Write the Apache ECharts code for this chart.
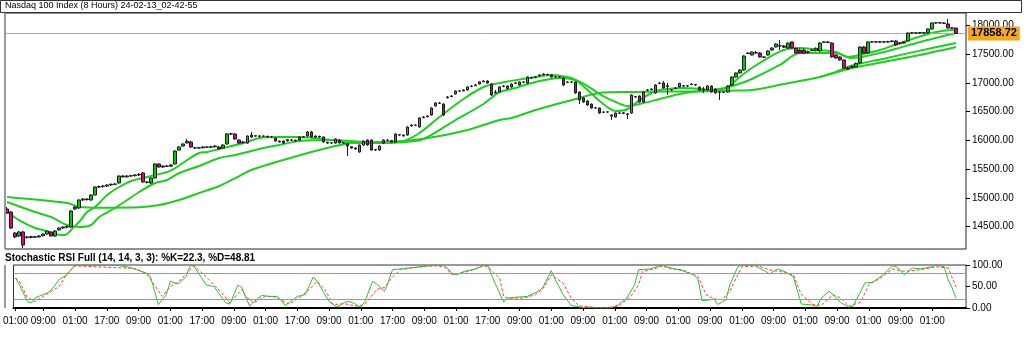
<!DOCTYPE html>
<html><head><meta charset="utf-8">
<script src="https://cdn.jsdelivr.net/npm/echarts@6/dist/echarts.min.js"></script>
<style>html,body{margin:0;padding:0;background:#fff}#c{width:1024px;height:344px}</style>
</head><body><div id="c"></div>
<script>
const chartTitle = 'Nasdaq 100 Index (8 Hours) 24-02-13_02-42-55';
const stochTitle = 'Stochastic RSI Full (14, 14, 3, 3): %K=22.3, %D=48.81';
const lastPrice = 17858.72;
const barCount = 240;
// [open, close, low, high]
const ohlc = [
[14806,14736,14719,14840],[14753,14475,14458,14771],[14388,14319,14301,14406],[14336,14406,14319,14423],
[14406,14180,14127,14423],[14319,14310,14290,14336],[14310,14325,14295,14340],[14325,14315,14300,14336],
[14320,14336,14310,14350],[14340,14371,14330,14380],[14371,14423,14360,14430],[14406,14336,14330,14415],
[14336,14423,14320,14440],[14440,14475,14430,14490],[14475,14493,14460,14500],[14490,14500,14470,14520],
[14493,14771,14480,14790],[14806,14840,14790,14860],[14823,14962,14810,14975],[14962,14979,14945,14995],
[14979,14970,14950,14995],[14962,15049,14950,15060],[15049,15188,15040,15200],[15188,15195,15170,15215],
[15195,15205,15180,15220],[15205,15223,15190,15235],[15223,15235,15210,15250],[15235,15240,15220,15255],
[15258,15379,15245,15390],[15379,15365,15350,15395],[15365,15379,15350,15395],[15379,15385,15365,15400],
[15385,15397,15370,15410],[15397,15405,15380,15430],[15432,15275,15260,15450],[15275,15270,15250,15290],
[15258,15345,15240,15355],[15345,15588,15335,15600],[15588,15536,15525,15600],[15536,15553,15520,15565],
[15553,15550,15535,15570],[15550,15571,15540,15585],[15588,15814,15575,15825],[15831,15884,15820,15900],
[15900,15936,15890,15950],[15953,15985,15950,16023],[15971,15884,15870,15990],[15870,15866,15850,15885],
[15866,15870,15850,15885],[15870,15884,15860,15900],[15884,15880,15865,15900],[15880,15888,15868,15905],
[15888,15901,15875,15915],[15884,15849,15840,15900],[15866,15918,15855,15930],[15936,16110,15925,16125],
[16110,16115,16095,16130],[16110,16023,16010,16125],[16005,15953,15945,16015],[15960,15971,15945,15985],
[15953,16075,15940,16085],[16058,16092,16040,16145],[16080,16075,16060,16090],[16075,16070,16055,16090],
[16070,16075,16058,16088],[16070,16058,16045,16080],[16058,16060,16045,16075],[16040,15988,15975,16050],
[15985,15971,15960,15995],[15988,15953,15940,15995],[15990,16010,15980,16025],[16005,16000,15990,16020],
[16000,15990,15975,16015],[16005,16058,15995,16070],[16058,16055,16040,16070],[16075,16145,16065,16160],
[16145,16058,16045,16165],[16058,16075,16045,16085],[16070,16058,16045,16080],[16058,15971,15960,16065],
[15965,15953,15940,15975],[15953,15955,15940,15970],[15953,16023,15940,16035],[16005,15953,15945,16015],
[15953,15950,15935,15965],[15940,15901,15727,15950],[15890,15866,15850,15895],[15866,15849,15835,15875],
[15797,15918,15785,15930],[15918,15988,15905,16000],[16005,15918,15905,16015],[16005,15831,15820,16015],
[15831,15840,15815,15850],[15831,15901,15820,15910],[15953,16005,15940,16015],[16005,16000,15990,16020],
[15995,15971,15960,16005],[15971,16110,15960,16125],[16100,16092,16080,16110],[16090,16075,16065,16105],
[16092,16232,16080,16245],[16250,16266,16240,16280],[16266,16260,16248,16280],[16232,16388,16220,16400],
[16395,16405,16385,16420],[16410,16423,16400,16435],[16440,16562,16430,16575],[16597,16649,16585,16660],
[16649,16645,16630,16665],[16631,16440,16425,16645],[16740,16753,16730,16770],[16760,16771,16750,16785],
[16805,16858,16795,16870],[16858,16855,16840,16870],[16860,16875,16850,16885],[16875,16927,16865,16940],
[16935,16944,16925,16955],[16950,16962,16940,16975],[16979,17014,16970,17025],[17020,17031,17010,17045],
[17031,16997,16985,17045],[16979,16788,16775,16990],[16840,16823,16810,16875],[16840,16927,16830,16940],
[16935,16944,16925,16955],[16944,16900,16890,16955],[16927,16979,16915,16990],[16990,16997,16980,17010],
[16962,17014,16950,17025],[17014,17010,17000,17025],[16997,17101,16985,17110],[17090,17084,17075,17100],
[17090,17101,17080,17115],[17120,17136,17110,17150],[17140,17153,17130,17165],[17145,17136,17125,17160],
[17136,17101,17090,17150],[17101,17105,17090,17115],[17105,17101,17090,17118],[17084,16962,16940,17095],
[17014,17010,16995,17025],[17014,17014,17000,17025],[17014,16823,16810,17025],[16840,16701,16631,16850],
[16736,16666,16650,16745],[16684,16614,16600,16695],[16631,16562,16550,16640],[16562,16565,16550,16580],
[16562,16475,16460,16570],[16492,16488,16475,16505],[16492,16495,16478,16505],[16440,16420,16353,16450],
[16405,16475,16395,16485],[16475,16470,16460,16488],[16470,16478,16455,16490],[16460,16450,16371,16470],
[16475,16788,16460,16800],[16760,16753,16740,16770],[16771,16666,16655,16780],[16666,16840,16655,16850],
[16870,16875,16860,16890],[16880,16892,16870,16905],[16823,16962,16810,16975],[16990,16997,16980,17010],
[16997,16910,16900,17031],[16950,16935,16788,16997],[16880,16875,16860,16890],[16900,16910,16890,16925],
[16927,16990,16920,17000],[16950,16944,16930,16960],[16944,16948,16930,16960],[16970,16979,16960,16990],
[16970,16962,16950,16980],[16927,16875,16865,16935],[16890,16875,16823,16927],[16875,16944,16865,16955],
[16944,16840,16830,16955],[16892,16823,16810,16900],[16840,16835,16701,16850],[16835,16840,16825,16850],
[16840,16944,16830,16955],[16962,17101,16950,17110],[17101,17171,17090,17180],[17171,17223,17160,17235],
[17223,17466,17210,17480],[17510,17518,17500,17530],[17484,17536,17475,17545],[17525,17518,17505,17553],
[17518,17449,17440,17530],[17449,17445,17430,17460],[17484,17553,17475,17565],[17570,17605,17560,17615],
[17623,17675,17615,17685],[17645,17640,17570,17744],[17640,17620,17605,17660],[17605,17692,17595,17700],
[17710,17605,17595,17720],[17600,17520,17505,17610],[17570,17520,17505,17595],[17570,17515,17505,17600],
[17530,17540,17510,17560],[17560,17570,17550,17585],[17560,17600,17545,17615],[17553,17692,17540,17705],
[17705,17710,17695,17725],[17710,17700,17690,17725],[17692,17449,17440,17705],[17484,17431,17420,17495],
[17449,17397,17385,17460],[17397,17257,17245,17405],[17260,17240,17223,17275],[17270,17285,17257,17300],
[17275,17340,17265,17350],[17344,17623,17330,17635],[17623,17518,17505,17635],[17518,17710,17505,17720],
[17710,17712,17700,17725],[17712,17708,17698,17725],[17708,17712,17695,17725],[17712,17710,17698,17728],
[17710,17715,17698,17730],[17720,17727,17705,17740],[17727,17658,17645,17740],[17680,17692,17665,17705],
[17692,17710,17680,17720],[17727,17866,17715,17875],[17866,17870,17855,17885],[17868,17866,17852,17882],
[17866,17872,17855,17885],[17870,17866,17855,17885],[17866,17936,17855,17945],[17936,18040,17925,18050],
[18040,18045,18030,18055],[18045,18040,18030,18055],[18040,18035,18025,18050],[18023,17953,17945,18110],
[17955,17950,17940,17965],[17953,17858.72,17850,17960]
];
// moving averages: [barIndex, value]
const maFast = [[0,14753],[3,14614],[7,14475],[9,14440],[12,14371],[14,14353],[15,14371],[16,14440],[18,14579],[20,14753],[22,14840],[25,15049],[28,15188],[31,15292],[34,15345],[37,15397],[40,15449],[42,15518],[45,15658],[48,15779],[50,15797],[55,15884],[60,15971],[63,16040],[68,16058],[73,16058],[81,16005],[86,15953],[93,15953],[99,15988],[103,16127],[108,16405],[114,16718],[119,16927],[123,16997],[132,17101],[136,17136],[140,17101],[142,17049],[145,16875],[148,16684],[152,16510],[155,16544],[158,16701],[162,16858],[165,16892],[169,16910],[173,16892],[177,16875],[180,16927],[183,17101],[186,17257],[190,17431],[194,17570],[198,17605],[203,17570],[207,17536],[210,17449],[213,17484],[218,17570],[223,17692],[231,17866],[236,17918],[237,17901]];
const maMid = [[0,14927],[7,14753],[11,14666],[15,14527],[18,14493],[21,14527],[23,14666],[27,14823],[30,14962],[33,15101],[37,15258],[40,15310],[43,15432],[48,15553],[53,15692],[57,15745],[63,15849],[68,15918],[73,15988],[81,16005],[86,15988],[93,15953],[99,15971],[104,16023],[112,16353],[119,16631],[123,16840],[126,16892],[132,17014],[138,17084],[142,17049],[145,16944],[148,16805],[152,16666],[155,16597],[158,16631],[163,16718],[168,16805],[173,16857],[178,16892],[182,16962],[186,17066],[193,17310],[198,17518],[207,17518],[211,17431],[219,17536],[228,17710],[237,17866]];
const maSlow = [[0,15014],[15,14910],[18,14846],[23,14828],[33,14835],[38,14875],[43,14962],[48,15084],[53,15206],[58,15379],[61,15484],[69,15658],[78,15832],[86,15953],[96,15976],[100,15993],[107,16063],[115,16179],[123,16353],[126,16388],[132,16527],[142,16718],[148,16823],[156,16840],[165,16849],[173,16849],[182,16866],[186,16875],[194,16979],[203,17101],[211,17257],[219,17362],[228,17484],[237,17623]];
const maSlow2 = [[203,17101],[207,17190],[211,17300],[219,17420],[228,17560],[237,17692]];
const stochK = [[0,70],[1,54],[3,15],[4,12],[5,24],[8,35],[9,42],[11,66],[13,77],[15,100],[26,99],[29,94],[33,81],[34,73],[36,8],[38,31],[39,62],[41,56],[43,73],[44,99],[45,97],[48,54],[50,50],[53,12],[54,9],[56,53],[57,48],[59,4],[60,14],[62,29],[64,27],[66,27],[68,6],[71,27],[73,31],[75,72],[76,62],[79,15],[81,2],[83,14],[84,15],[85,12],[87,2],[88,15],[90,62],[91,56],[93,39],[94,62],[95,89],[97,91],[99,93],[103,97],[106,100],[108,100],[110,81],[111,77],[113,85],[116,91],[118,100],[119,99],[121,54],[123,14],[124,23],[126,25],[129,27],[132,40],[133,50],[135,87],[136,66],[138,31],[140,6],[143,1],[147,0],[150,0],[152,8],[154,23],[156,54],[157,89],[160,91],[163,100],[164,96],[166,91],[168,87],[171,77],[172,66],[173,17],[175,19],[176,21],[177,8],[179,19],[180,54],[182,96],[183,100],[186,100],[189,85],[190,79],[192,91],[194,84],[196,73],[198,9],[200,8],[202,4],[203,23],[205,39],[206,31],[208,12],[210,2],[211,4],[213,39],[214,58],[216,60],[218,73],[221,98],[222,96],[224,77],[226,93],[228,91],[231,96],[232,100],[234,96],[235,66],[236,47],[237,22.3]];
const stochD = [[0,70],[1,62],[3,24],[5,15],[7,27],[11,50],[13,80],[15,98],[30,92],[33,80],[37,27],[39,50],[41,60],[43,80],[45,98],[48,73],[52,35],[54,12],[57,43],[58,27],[60,12],[63,27],[65,27],[69,9],[72,27],[74,43],[76,62],[78,43],[80,8],[83,10],[86,4],[88,8],[91,43],[93,48],[95,72],[97,89],[103,97],[106,98],[108,96],[110,78],[113,82],[118,98],[119,96],[122,69],[123,27],[124,23],[128,23],[131,31],[133,46],[135,77],[138,58],[140,23],[142,5],[148,0],[152,4],[155,27],[157,54],[158,85],[161,91],[163,98],[165,91],[168,89],[172,73],[174,31],[176,21],[178,19],[180,39],[182,77],[183,96],[187,98],[190,89],[193,84],[196,77],[198,31],[201,8],[203,6],[206,31],[208,23],[210,4],[213,14],[215,54],[218,70],[221,91],[224,85],[228,89],[232,96],[235,93],[237,48.81]];
const priceTicks = [14500,15000,15500,16000,16500,17000,17500,18000];
const stochTicks = [0,50,100];
const stochLevels = [20,80];
const timeTickIndex = [0,7,15,23,31,39,47,55,63,71,79,87,95,103,111,119,127,135,143,151,159,167,175,183,191,199,207,215,223,231];
const timeTickLabels = ['01:00','09:00','01:00','17:00','09:00','01:00','17:00','09:00','01:00','17:00','09:00','01:00','17:00','09:00','01:00','17:00','09:00','01:00','09:00','01:00','09:00','01:00','09:00','01:00','09:00','01:00','09:00','01:00','09:00','01:00'];

const categories = Array.from({length: barCount}, (_, i) => i);
const tickMap = {};
timeTickIndex.forEach((ix, k) => { tickMap[ix] = timeTickLabels[k]; });

const FONT = '"Liberation Sans", Arial, sans-serif';
const chart = echarts.init(document.getElementById('c'), null, {renderer: 'canvas'});
const maStyle = (d) => ({type: 'line', data: d, xAxisIndex: 0, yAxisIndex: 0, smooth: 0.3, showSymbol: false, connectNulls: true,
  lineStyle: {color: '#22CC22', width: 2}, silent: true, z: 3});

chart.setOption({
  animation: false,
  backgroundColor: '#fff',
  grid: [
    {left: 5, top: 13, width: 961, height: 236, show: true, borderColor: '#222', borderWidth: 1, backgroundColor: '#fff'},
    {left: 5, top: 265, width: 961, height: 43, show: true, borderColor: '#333', borderWidth: 1, backgroundColor: '#fff'}
  ],
  xAxis: [
    {type: 'category', gridIndex: 0, data: categories, boundaryGap: true,
     axisLine: {show: false}, axisTick: {show: false}, axisLabel: {show: false}, splitLine: {show: false}},
    {type: 'category', gridIndex: 1, data: categories, boundaryGap: true,
     axisLine: {show: true, lineStyle: {color: '#000', width: 2}},
     axisTick: {show: true, alignWithLabel: true, length: 3, lineStyle: {color: '#000'}, interval: (i) => tickMap[i] !== undefined},
     axisLabel: {show: true, interval: (i) => tickMap[i] !== undefined, formatter: (v, i) => tickMap[i] || '',
       alignMinLabel: 'center', alignMaxLabel: 'center',
       color: '#000', fontFamily: FONT, fontSize: 10, margin: 8},
     splitLine: {show: false}}
  ],
  yAxis: [
    {type: 'value', gridIndex: 0, position: 'right', min: 14110, max: 18214, scale: true,
     axisLine: {show: false},
     axisTick: {show: true, customValues: priceTicks, length: 4, lineStyle: {color: '#000'}},
     axisLabel: {show: true, customValues: priceTicks, formatter: (v) => v.toFixed(2), color: '#000', fontFamily: FONT, fontSize: 10, margin: 6},
     splitLine: {show: false}},
    {type: 'value', gridIndex: 1, position: 'right', min: 0, max: 100,
     axisLine: {show: false},
     axisTick: {show: true, customValues: stochTicks, length: 4, lineStyle: {color: '#000'}},
     axisLabel: {show: true, customValues: stochTicks, formatter: (v) => v.toFixed(2), color: '#000', fontFamily: FONT, fontSize: 10, margin: 6},
     splitLine: {show: false}}
  ],
  graphic: [
    {type: 'rect', shape: {x: 0.5, y: 0.5, width: 1021, height: 12}, style: {fill: '#fff', stroke: '#333', lineWidth: 1}, z: 100},
    {type: 'text', left: 5, top: 1, style: {text: chartTitle, fill: '#000', font: '9px ' + FONT}, z: 101},
    {type: 'line', shape: {x1: 5, y1: 13, x2: 5, y2: 249}, style: {stroke: '#999', lineWidth: 2}, z: 100},
    {type: 'line', shape: {x1: 5, y1: 265, x2: 5, y2: 308}, style: {stroke: '#999', lineWidth: 2}, z: 100},
    {type: 'text', left: 5, top: 253, style: {text: stochTitle, fill: '#000', font: 'bold 10px ' + FONT}, z: 101}
  ],
  series: [
    maStyle(maSlow), maStyle(maSlow2), maStyle(maMid), maStyle(maFast),
    {type: 'candlestick', name: 'NDX', xAxisIndex: 0, yAxisIndex: 0, data: ohlc, barWidth: 3, z: 5,
     itemStyle: {color: '#00CC00', color0: '#E6007A', borderColor: '#1a1a1a', borderColor0: '#1a1a1a', borderWidth: 1},
     markLine: {silent: true, symbol: ['none', 'none'], animation: false,
       lineStyle: {color: '#C4A47C', type: 'solid', width: 1},
       label: {show: true, position: 'end', formatter: () => lastPrice.toFixed(2), backgroundColor: '#F7A823', color: '#000',
         fontWeight: 'bold', fontFamily: FONT, fontSize: 11, padding: [2, 3, 1, 3], distance: 2},
       data: [{yAxis: lastPrice}]}},
    {type: 'line', name: '%K', xAxisIndex: 1, yAxisIndex: 1, data: stochK, showSymbol: false, connectNulls: true,
     lineStyle: {color: '#33BB33', width: 1}, z: 4,
     markLine: {silent: true, symbol: ['none', 'none'], label: {show: false}, lineStyle: {color: '#999', type: 'solid', width: 1},
       data: stochLevels.map(v => ({yAxis: v}))}},
    {type: 'line', name: '%D', xAxisIndex: 1, yAxisIndex: 1, data: stochD, showSymbol: false, connectNulls: true,
     lineStyle: {color: '#FF3B3B', width: 1, type: [3, 2]}, z: 3}
  ]
});
</script></body></html>
